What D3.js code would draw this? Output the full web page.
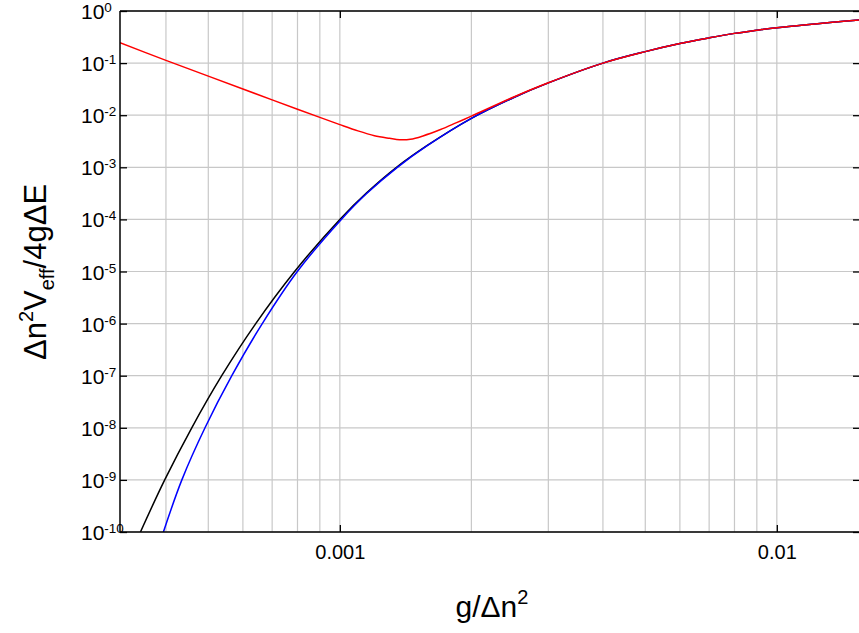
<!DOCTYPE html>
<html><head><meta charset="utf-8">
<script src="https://cdn.jsdelivr.net/npm/d3@7"></script>
<style>
body{margin:0;background:#fff;}
svg text{font-family:"Liberation Sans",Arial,sans-serif;}
</style></head>
<body><svg id="c" width="859" height="633"></svg>
<script>
// ---- data ----
const xDomain = [3.14e-4, 0.0155];
const yDomain = [1e-10, 1];
const xMajorTicks = [0.001, 0.01];
const xTickLabels = ["0.001", "0.01"];
const xGridValues = [4e-4,5e-4,6e-4,7e-4,8e-4,9e-4,1e-3,2e-3,3e-3,4e-3,5e-3,6e-3,7e-3,8e-3,9e-3,1e-2];
const yExponents = [0,-1,-2,-3,-4,-5,-6,-7,-8,-9,-10];

const blackX = [3.497e-4,3.974e-4,4.583e-4,5.367e-4,6.42e-4,7.88e-4,1.0e-3,1.15e-3,1.348e-3,1.585e-3,2e-3,2.5e-3,3e-3,4e-3,5e-3,6e-3,7e-3,8e-3,9e-3,1e-2,1.55e-2];
const blackY = [1e-10,1e-9,1e-8,1e-7,1e-6,1e-5,1e-4,3.2e-4,1e-3,2.63e-3,8.71e-3,2.19e-2,4.17e-2,0.100,0.166,0.237,0.305,0.372,0.427,0.479,0.676];

const blueX = [3.947e-4,4.35e-4,4.914e-4,5.66e-4,6.645e-4,7.993e-4,1.0079e-3,1.15e-3,1.354e-3,1.585e-3,2e-3,2.5e-3,3e-3,4e-3,5e-3,6e-3,7e-3,8e-3,9e-3,1e-2,1.55e-2];
const blueY = [1e-10,1e-9,1e-8,1e-7,1e-6,1e-5,1e-4,3.1e-4,1e-3,2.6e-3,8.71e-3,2.19e-2,4.17e-2,0.100,0.166,0.237,0.305,0.372,0.427,0.479,0.676];

const redX = [3.14e-4,4e-4,5e-4,6e-4,7e-4,8e-4,9e-4,1e-3,1.1e-3,1.2e-3,1.3e-3,1.37e-3,1.45e-3,1.55e-3,1.7e-3,1.85e-3,2e-3,2.5e-3,3e-3,4e-3,5e-3,6e-3,7e-3,8e-3,9e-3,1e-2,1.55e-2];
const redY = [0.246,0.113,5.62e-2,3.18e-2,1.97e-2,1.30e-2,9.1e-3,6.6e-3,5.0e-3,4.05e-3,3.6e-3,3.38e-3,3.45e-3,4.0e-3,5.3e-3,7.2e-3,9.6e-3,2.24e-2,4.2e-2,0.100,0.166,0.237,0.305,0.372,0.427,0.479,0.676];

// ---- layout ----
const svg = d3.select("#c");
const L = 120, R = 860, T = 11, B = 532;
const x = d3.scaleLog().domain(xDomain).range([L, R]);
const y = d3.scaleLog().domain(yDomain).range([B, T]);

const grid = svg.append("g");
grid.selectAll("line.vx").data(xGridValues).join("line")
  .attr("x1", d => x(d)).attr("x2", d => x(d)).attr("y1", T).attr("y2", B)
  .attr("stroke", "#c8c8c8").attr("stroke-width", 1.2);
grid.selectAll("line.hy").data(yExponents).join("line")
  .attr("x1", L).attr("x2", R).attr("y1", d => y(Math.pow(10, d))).attr("y2", d => y(Math.pow(10, d)))
  .attr("stroke", "#c8c8c8").attr("stroke-width", 1.2);

const line = d3.line().x(d => x(d[0])).y(d => y(d[1])).curve(d3.curveCatmullRom.alpha(0.5));
svg.append("clipPath").attr("id", "clp").append("rect")
  .attr("x", L).attr("y", T).attr("width", R - L).attr("height", B - T);
const plot = svg.append("g").attr("clip-path", "url(#clp)");
plot.append("path").datum(d3.zip(blackX, blackY)).attr("d", line)
  .attr("fill", "none").attr("stroke", "#000").attr("stroke-width", 1.5);
plot.append("path").datum(d3.zip(blueX, blueY)).attr("d", line)
  .attr("fill", "none").attr("stroke", "#0000ff").attr("stroke-width", 1.5);
plot.append("path").datum(d3.zip(redX, redY)).attr("d", line)
  .attr("fill", "none").attr("stroke", "#ff0000").attr("stroke-width", 1.5);

// axes
const xAxisB = d3.axisBottom(x).tickValues(xMajorTicks).tickSize(-7).tickFormat((d, i) => xTickLabels[i]).tickPadding(13);
const gx = svg.append("g").attr("transform", `translate(0,${B})`).call(xAxisB);
gx.selectAll("text").attr("font-size", 20).attr("fill", "#000");
gx.select(".domain").remove();
const xAxisT = d3.axisTop(x).tickValues(xMajorTicks).tickSize(-7).tickFormat("");
const gxt = svg.append("g").attr("transform", `translate(0,${T})`).call(xAxisT);
gxt.select(".domain").remove();

const yAxisL = d3.axisLeft(y).tickValues(yExponents.map(e => Math.pow(10, e))).tickSize(-7).tickFormat("");
const gy = svg.append("g").attr("transform", `translate(${L},0)`).call(yAxisL);
gy.select(".domain").remove();
const yAxisR = d3.axisRight(y).tickValues(yExponents.map(e => Math.pow(10, e))).tickSize(-7).tickFormat("");
const gyr = svg.append("g").attr("transform", `translate(${R},0)`).call(yAxisR);
gyr.select(".domain").remove();
svg.selectAll(".tick line").attr("stroke", "#000").attr("stroke-width", 1.3);

// frame
svg.append("line").attr("x1", L).attr("x2", L).attr("y1", T).attr("y2", B).attr("stroke", "#000").attr("stroke-width", 1.5);
svg.append("line").attr("x1", L).attr("x2", R).attr("y1", B).attr("y2", B).attr("stroke", "#000").attr("stroke-width", 1.5);
svg.append("line").attr("x1", L).attr("x2", R).attr("y1", T).attr("y2", T).attr("stroke", "#000").attr("stroke-width", 1.5);

// y tick labels 10^n
const yl = svg.append("g");
yExponents.forEach(e => {
  const t = yl.append("text").attr("x", 81).attr("y", y(Math.pow(10, e)) + 8)
    .attr("font-size", 21).attr("fill", "#000");
  t.append("tspan").text("10");
  t.append("tspan").attr("dy", -7).attr("font-size", 13.5).text(e === 0 ? "0" : "-" + Math.abs(e));
});

// axis titles
const xt = svg.append("text").attr("x", 492).attr("y", 617).attr("text-anchor", "middle")
  .attr("font-size", 30).attr("fill", "#000");
xt.append("tspan").text("g/\u0394n");
xt.append("tspan").attr("dy", -13).attr("font-size", 20).text("2");

const yt = svg.append("text").attr("transform", "translate(46,272) rotate(-90)")
  .attr("text-anchor", "middle").attr("font-size", 31).attr("fill", "#000");
yt.append("tspan").text("\u0394n");
yt.append("tspan").attr("dy", -13).attr("font-size", 20).text("2");
yt.append("tspan").attr("dy", 13).text("V");
yt.append("tspan").attr("dy", 8).attr("font-size", 20).text("eff");
yt.append("tspan").attr("dy", -8).text("/4g\u0394E");
</script></body></html>
